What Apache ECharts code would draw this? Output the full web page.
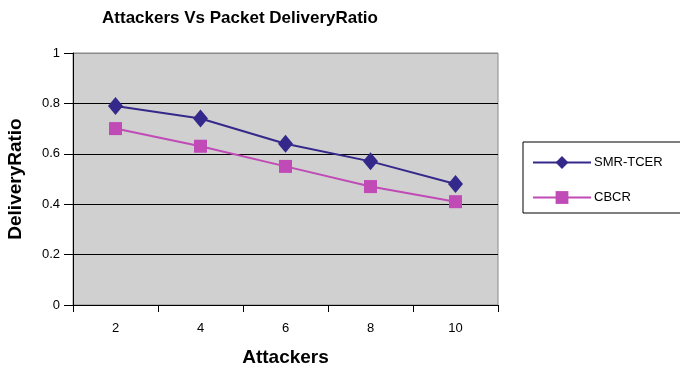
<!DOCTYPE html>
<html>
<head>
<meta charset="utf-8">
<script src="https://cdn.jsdelivr.net/npm/echarts@6/dist/echarts.min.js"></script>
<style>
  html, body { margin: 0; padding: 0; background: #fff; }
  #chart { width: 680px; height: 370px; }
</style>
</head>
<body>
<div id="chart"></div>
<script>
// Attackers on the x axis, delivery ratio per protocol
const attackers = ['2', '4', '6', '8', '10'];
const smrTcer = [0.79, 0.74, 0.64, 0.57, 0.48];
const cbcr = [0.70, 0.63, 0.55, 0.47, 0.41];
const yTicks = [0, 0.2, 0.4, 0.6, 0.8, 1];

const font = 'Liberation Sans, Arial, sans-serif';
const chart = echarts.init(document.getElementById('chart'), null, { renderer: 'canvas' });

chart.setOption({
  animation: false,
  title: {
    text: 'Attackers Vs Packet DeliveryRatio',
    left: 235, top: 5, textAlign: 'center',
    textStyle: { fontFamily: font, fontSize: 17, fontWeight: 'bold', color: '#000' }
  },
  grid: {
    left: 73, right: 182, top: 53, bottom: 65,
    containLabel: false,
    outerBoundsMode: 'none',
    show: true, backgroundColor: '#d0d0d0', borderColor: '#8a8a8a', borderWidth: 1
  },
  legend: {
    orient: 'vertical',
    left: 523, top: 142,
    width: 156,
    padding: [14, 40, 9, 9],
    itemGap: 22,
    itemWidth: 58, itemHeight: 16,
    borderColor: '#000', borderWidth: 1,
    textStyle: { fontFamily: font, fontSize: 13, color: '#000', padding: [0, 0, 0, -2] },
    data: ['SMR-TCER', 'CBCR']
  },
  xAxis: {
    type: 'category',
    data: attackers,
    boundaryGap: true,
    name: 'Attackers',
    nameLocation: 'middle',
    nameGap: 43,
    nameTextStyle: { fontFamily: font, fontSize: 19, fontWeight: 'bold', color: '#000' },
    axisLine: { lineStyle: { color: '#000', width: 1 } },
    axisTick: { show: true, length: 7, inside: false, lineStyle: { color: '#000' } },
    axisLabel: { fontFamily: font, fontSize: 13, color: '#000', margin: 17 },
    splitLine: { show: false }
  },
  yAxis: {
    type: 'value',
    min: 0, max: 1, interval: 0.2,
    name: 'DeliveryRatio',
    nameLocation: 'middle',
    nameGap: 48,
    nameRotate: 90,
    nameTextStyle: { fontFamily: font, fontSize: 19, fontWeight: 'bold', color: '#000' },
    axisLine: { show: true, lineStyle: { color: '#000', width: 1 } },
    axisTick: { show: true, length: 9, lineStyle: { color: '#000' } },
    axisLabel: {
      fontFamily: font, fontSize: 13, color: '#000', margin: 13,
      formatter: v => {
        const t = yTicks.find(x => Math.abs(x - v) < 1e-9);
        return t === undefined ? '' : String(t);
      }
    },
    // black gridlines, the top one stays in the gray frame colour
    splitLine: {
      show: true,
      lineStyle: { color: ['#000', '#000', '#000', '#000', '#000', '#8a8a8a'], width: 1 }
    }
  },
  series: [
    {
      name: 'SMR-TCER',
      type: 'line',
      data: smrTcer,
      symbol: 'diamond',
      symbolSize: [15, 18],
      lineStyle: { color: '#34288a', width: 2 },
      itemStyle: { color: '#34288a' }
    },
    {
      name: 'CBCR',
      type: 'line',
      data: cbcr,
      symbol: 'rect',
      symbolSize: 13,
      lineStyle: { color: '#c04ab6', width: 2 },
      itemStyle: { color: '#c04ab6' }
    }
  ]
});
</script>
</body>
</html>
